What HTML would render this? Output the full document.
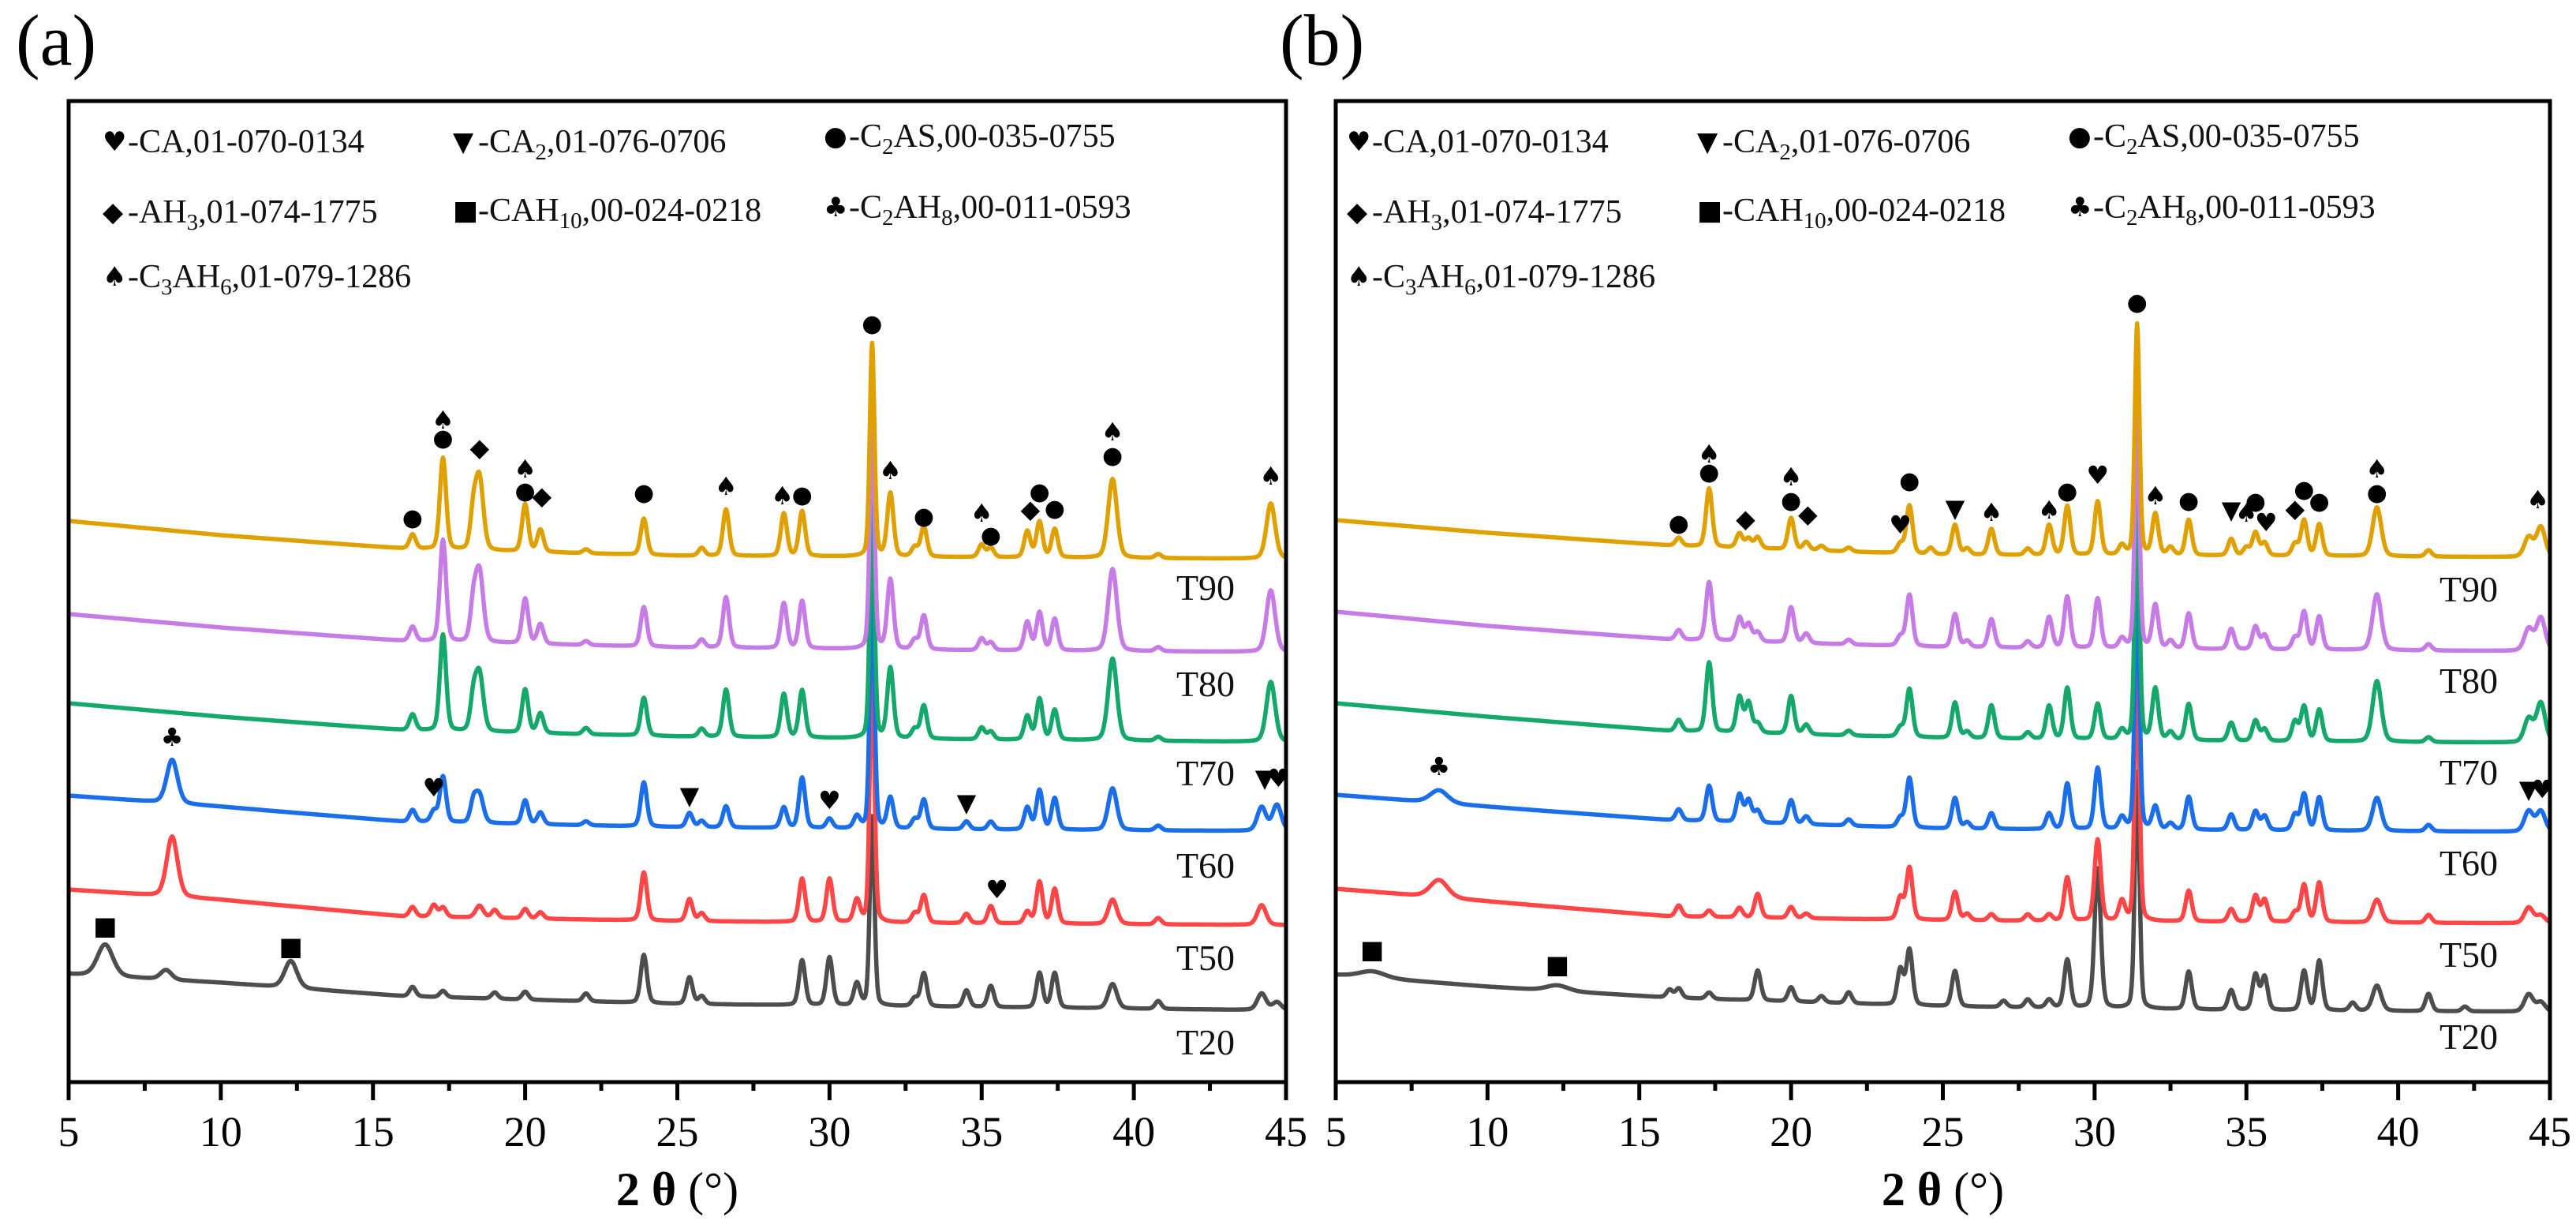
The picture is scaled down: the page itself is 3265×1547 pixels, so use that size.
<!DOCTYPE html>
<html><head><meta charset="utf-8"><style>
html,body{margin:0;padding:0;background:#fff}
svg{display:block}
.sym{font-family:"DejaVu Sans",sans-serif}
.ser{font-family:"Liberation Serif",serif}
</style></head><body>
<svg id="fig" width="3265" height="1547" viewBox="0 0 3265 1547" xmlns="http://www.w3.org/2000/svg">
<rect width="3265" height="1547" fill="#fff"/>
<g id="panelA"></g>
<g id="panelB"></g>
</svg>
<script>
// ---------- data ----------
const xTicks = [5,10,15,20,25,30,35,40,45];
const seriesNames = ["T20","T50","T60","T70","T80","T90"];
const seriesColors = ["#4d4d4d","#ff4545","#1a6eea","#14a86a","#c77be6","#e0a100"];
const bgDeg = [5,10,16,25,35,45];
// panel (a) backgrounds (intensity units)
const a_bg_T20 = [137,126,109,99,95,91];
const a_bg_T50 = [244,231,210,204,201,199];
const a_bg_T60 = [363,349,330,323,320,318];
const a_bg_T70 = [480,463,446,438,434,431];
const a_bg_T80 = [593,576,559,551,547,545];
const a_bg_T90 = [711,693,676,667,665,663];
// panel (a) peaks [2theta, height]
const a_pk_T90 = [[16.3,18],[17.3,116],[18.3,45],[18.5,90],[20.0,60],[20.5,28],[22.0,5],[23.9,46],[25.8,10],[26.6,59],[28.5,54],[29.1,57],[31.4,270],[32.0,80],[32.8,12],[33.1,38],[35.0,16],[35.3,12],[36.5,33],[36.9,45],[37.4,36],[39.3,100],[40.8,5],[44.5,70]];
const a_pk_T80 = [[16.3,18],[17.3,129],[18.3,45],[18.5,88],[20.0,57],[20.5,25],[22.0,5],[23.9,50],[25.8,10],[26.6,64],[28.5,57],[29.1,60],[31.4,300],[32.0,88],[32.8,12],[33.1,43],[35.0,15],[35.3,10],[36.5,36],[36.9,48],[37.4,40],[39.3,104],[40.8,5],[44.5,78]];
const a_pk_T70 = [[16.3,20],[17.3,122],[18.3,40],[18.5,72],[20.0,55],[20.5,25],[22.0,8],[23.9,48],[25.8,10],[26.6,60],[28.5,55],[29.1,60],[31.4,300],[32.0,89],[32.8,12],[33.1,42],[35.0,15],[35.3,10],[36.5,30],[36.9,52],[37.4,38],[39.3,104],[40.8,5],[44.5,76]];
const a_pk_T60 = [[8.4,55],[16.3,15],[17.0,14],[17.3,58],[18.3,25],[18.5,35],[20.0,30],[20.5,15],[22.0,5],[23.9,56],[25.4,18],[25.8,8],[26.6,27],[28.5,26],[29.1,64],[30.0,12],[30.9,15],[31.4,310],[32.0,39],[32.8,12],[33.1,37],[34.5,10],[35.3,10],[36.5,28],[36.9,50],[37.4,40],[39.3,53],[40.8,6],[44.2,30],[44.7,33]];
const a_pk_T50 = [[8.4,76],[16.3,12],[17.0,15],[17.3,12],[18.5,15],[19.0,10],[20.0,12],[20.5,8],[23.9,61],[25.4,28],[25.8,10],[29.1,55],[30.0,55],[30.9,28],[31.4,330],[32.8,12],[33.1,35],[34.5,12],[35.3,22],[36.5,15],[36.9,53],[37.4,44],[39.3,31],[40.8,8],[44.2,25]];
const a_pk_T20 = [[6.2,40],[8.2,12],[12.3,34],[16.3,12],[17.3,8],[19.0,8],[20.0,10],[22.0,10],[23.9,61],[25.4,34],[25.8,10],[29.1,57],[30.0,61],[30.9,28],[31.4,240],[32.8,10],[33.1,42],[34.5,21],[35.3,27],[36.9,44],[37.4,44],[39.3,31],[40.8,10],[44.2,21],[44.7,10]];
// panel (b)
const b_bg_T20 = [136,121,107,96,91,89];
const b_bg_T50 = [245,229,210,205,203,201];
const b_bg_T60 = [364,349,332,321,319,317];
const b_bg_T70 = [480,463,445,436,432,430];
const b_bg_T80 = [596,578,561,551,548,546];
const b_bg_T90 = [712,696,680,668,667,665];
const b_pk_T90 = [[16.3,10],[17.3,74],[18.3,18],[18.6,12],[18.9,14],[20.0,40],[20.5,10],[21.0,6],[21.9,5],[23.6,12],[23.9,61],[24.6,8],[25.4,38],[25.8,8],[26.6,33],[27.8,8],[28.5,38],[29.1,62],[30.1,68],[30.9,12],[31.4,293],[32.0,52],[32.5,10],[33.1,45],[34.5,21],[35.0,10],[35.3,29],[35.6,16],[36.6,15],[36.9,45],[37.4,40],[39.3,62],[41.0,8],[44.3,25],[44.7,38]];
const b_pk_T80 = [[16.3,12],[17.3,74],[18.3,30],[18.6,22],[18.9,12],[20.0,45],[20.5,12],[21.9,6],[23.6,12],[23.9,65],[25.4,42],[25.8,8],[26.6,36],[27.8,8],[28.5,39],[29.1,65],[30.1,63],[30.9,12],[31.4,300],[32.0,55],[32.5,10],[33.1,45],[34.5,26],[35.3,29],[35.6,18],[36.6,15],[36.9,48],[37.4,42],[39.3,71],[41.0,8],[44.3,28],[44.7,42]];
const b_pk_T70 = [[16.3,14],[17.3,88],[18.3,45],[18.6,38],[18.9,12],[20.0,48],[20.5,12],[21.9,6],[23.6,12],[23.9,61],[25.4,45],[25.8,8],[26.6,42],[27.8,8],[28.5,42],[29.1,65],[30.1,45],[30.9,12],[31.4,310],[32.0,65],[32.5,10],[33.1,46],[34.5,23],[35.3,26],[35.6,15],[36.6,25],[36.9,44],[37.4,40],[39.3,77],[41.0,6],[44.3,30],[44.7,50]];
const b_pk_T60 = [[8.4,16],[16.3,14],[17.3,45],[18.3,35],[18.6,28],[18.9,15],[20.0,30],[20.5,10],[21.9,8],[23.6,12],[23.9,63],[25.4,39],[25.8,8],[26.6,20],[28.5,20],[29.1,58],[30.1,78],[30.9,15],[31.4,320],[32.0,29],[32.5,8],[33.1,42],[34.5,20],[35.3,24],[35.6,18],[36.6,20],[36.9,46],[37.4,42],[39.3,42],[41.0,8],[44.3,26],[44.7,26]];
const b_pk_T50 = [[8.4,22],[16.3,14],[17.3,8],[18.3,12],[18.9,30],[20.0,14],[20.5,6],[23.6,28],[23.9,66],[25.4,36],[25.8,8],[26.6,8],[27.8,8],[28.5,8],[29.1,55],[30.1,103],[30.9,25],[31.4,330],[33.1,39],[34.5,16],[35.3,33],[35.6,28],[36.6,12],[36.9,47],[37.4,50],[39.3,29],[41.0,10],[44.3,20],[44.7,10]];
const b_pk_T20 = [[6.2,8],[12.3,7],[16.0,10],[16.3,12],[17.3,8],[18.9,38],[20.0,18],[21.0,8],[21.9,14],[23.6,45],[23.9,70],[25.4,45],[27.0,8],[27.8,10],[28.5,10],[29.1,61],[30.1,177],[31.4,300],[33.1,48],[34.5,25],[35.3,45],[35.6,42],[36.9,50],[37.4,63],[38.5,10],[39.3,32],[41.0,22],[42.2,6],[44.3,22],[44.7,12]];
// markers [2theta, intensity, glyph]
const a_marks = [[16.3,716,"●"],[17.3,839,"♠"],[17.3,817,"●"],[18.5,804,"◆"],[20.0,777,"♠"],[20.0,750,"●"],[20.55,743,"◆"],[23.9,748,"●"],[26.6,755,"♠"],[28.45,743,"♠"],[29.1,745,"●"],[31.4,962,"●"],[32.0,775,"♠"],[33.1,718,"●"],[35.0,721,"♠"],[35.3,694,"●"],[36.6,726,"◆"],[36.9,749,"●"],[37.4,728,"●"],[39.3,824,"♠"],[39.3,795,"●"],[44.5,768,"♠"],
 [8.4,437,"♣"],[17.0,373,"♥"],[6.2,198,"■"],[12.3,172,"■"],[25.4,363,"▼"],[30.0,357,"♥"],[34.5,354,"▼"],[35.5,244,"♥"],[44.3,385,"▼"],[44.75,385,"♥"]];
const b_marks = [[16.3,709,"●"],[17.3,796,"♠"],[17.3,774,"●"],[18.5,714,"◆"],[20.0,767,"♠"],[20.0,738,"●"],[20.55,720,"◆"],[23.6,706,"♥"],[23.9,763,"●"],[25.4,727,"▼"],[26.6,722,"♠"],[28.5,725,"♠"],[29.1,750,"●"],[30.1,769,"♥"],[31.4,989,"●"],[32.0,743,"♠"],[33.1,738,"●"],[34.5,725,"▼"],[35.0,721,"♠"],[35.3,737,"●"],[35.65,709,"♥"],[36.6,727,"◆"],[36.9,752,"●"],[37.4,737,"●"],[39.3,777,"♠"],[39.3,748,"●"],[44.6,738,"♠"],
 [8.4,400,"♣"],[6.2,168,"■"],[12.3,149,"■"],[44.3,371,"▼"],[44.75,371,"♥"]];
const a_labelY = [1320,1213,1096,979,866,744];
const b_labelY = [1313,1209,1093,978,862,746];

// ---------- helpers ----------
const NS = "http://www.w3.org/2000/svg";
const yS = v => 1371 - v;
function mk(tag, attrs, parent){ const e=document.createElementNS(NS,tag); for(const k in attrs) e.setAttribute(k,attrs[k]); parent.appendChild(e); return e; }
function bgAt(vals, d){ for(let i=0;i<bgDeg.length-1;i++){ if(d<=bgDeg[i+1]){ const t=(d-bgDeg[i])/(bgDeg[i+1]-bgDeg[i]); return vals[i]+t*(vals[i+1]-vals[i]); } } return vals[vals.length-1]; }
function widthOf(p, panel){ if(p<7) return panel==="b"?0.5:0.3; if(p<9) return panel==="b"?0.34:0.21; if(p<13) return panel==="b"?0.42:0.24; if(Math.abs(p-31.4)<0.05) return 0.09; if(Math.abs(p-39.3)<0.05||p>44) return 0.17; if(Math.abs(p-18.5)<0.05) return 0.15; return 0.12; }
function prof(dx,w){ const g=Math.exp(-Math.LN2*(dx/w)*(dx/w)); const l=1/(1+(dx/w)*(dx/w)); return 0.75*g+0.25*l; }

function buildPanel(g, panel, x0, x1, bgs, pks, marks, labelY, labelX, legendX, tag){
  const xS = d => x0 + (d-5)*(x1-x0)/40;
  for(let s=0;s<6;s++){
    let dstr="";
    for(let d=5; d<=45.0001; d+=0.02){
      let v=bgAt(bgs[s],d);
      for(const pk of pks[s]){ const dx=d-pk[0]; if(Math.abs(dx)<3) v+=pk[1]*prof(dx,widthOf(pk[0],panel)); }
      dstr += (dstr?"L":"M")+xS(d).toFixed(1)+","+yS(v).toFixed(1);
    }
    const p = mk("path",{d:dstr,fill:"none",stroke:seriesColors[s],"stroke-width":5.5,"stroke-linejoin":"round"},g);
    
    
    const t = mk("text",{x:labelX,y:labelY[s]+16,"text-anchor":"middle","font-size":46,class:"ser",fill:"#111"},g);
    t.textContent=seriesNames[s];
    
    
  }
  for(const m of marks){
    const t = mk("text",{x:xS(m[0]),y:yS(m[1])+11,"text-anchor":"middle","font-size":m[2]==="●"?30:32,class:"sym",fill:"#000"},g);
    t.textContent=m[2];
    
    
  }
  const fr = mk("rect",{x:x0,y:128,width:x1-x0,height:1371-128,fill:"none",stroke:"#000","stroke-width":5},g);
  
  
  for(let d=5; d<=45; d+=2.5){
    const major = Math.abs(d%5)<1e-6;
    const tk = mk("line",{x1:xS(d),x2:xS(d),y1:1371,y2:1371+(major?23:11),stroke:"#000","stroke-width":5},g);
    
    
  }
  for(const v of xTicks){
    const t = mk("text",{x:xS(v),y:1452,"text-anchor":"middle","font-size":54,class:"ser",fill:"#000"},g);
    t.textContent=String(v);
    
    
  }
  const title = mk("text",{x:(x0+x1)/2,y:1527,"text-anchor":"middle","font-size":60,class:"ser",fill:"#000"},g);
  title.innerHTML='<tspan font-weight="bold">2 θ</tspan> (°)';
  
  
  const pl = mk("text",{x:tag==="(a)"?20:1622,y:82,"font-size":92,class:"ser",fill:"#000"},g);
  pl.textContent=tag;
  
  
  const leg = [
    [0,193,"♥","-CA,01-070-0134"],
    [444,193,"▼",'-CA<tspan dy="9" font-size="29">2</tspan><tspan dy="-9">,01-076-0706</tspan>'],
    [914,186,"●",'-C<tspan dy="9" font-size="29">2</tspan><tspan dy="-9">AS,00-035-0755</tspan>'],
    [0,282,"◆",'-AH<tspan dy="9" font-size="29">3</tspan><tspan dy="-9">,01-074-1775</tspan>'],
    [444,280,"■",'-CAH<tspan dy="9" font-size="29">10</tspan><tspan dy="-9">,00-024-0218</tspan>'],
    [914,276,"♣",'-C<tspan dy="9" font-size="29">2</tspan><tspan dy="-9">AH</tspan><tspan dy="9" font-size="29">8</tspan><tspan dy="-9">,00-011-0593</tspan>'],
    [0,364,"♠",'-C<tspan dy="9" font-size="29">3</tspan><tspan dy="-9">AH</tspan><tspan dy="9" font-size="29">6</tspan><tspan dy="-9">,01-079-1286</tspan>']
  ];
  for(const L of leg){
    const s = mk("text",{x:legendX+L[0],y:L[1]-2,"font-size":34,class:"sym",fill:"#000"},g);
    s.textContent=L[2];
    
    
    const t = mk("text",{x:legendX+L[0]+32,y:L[1],"font-size":42,class:"ser",fill:"#111"},g);
    t.innerHTML=L[3];
    
    
  }
}
buildPanel(document.getElementById("panelA"),"a",87,1630,
  [a_bg_T20,a_bg_T50,a_bg_T60,a_bg_T70,a_bg_T80,a_bg_T90],
  [a_pk_T20,a_pk_T50,a_pk_T60,a_pk_T70,a_pk_T80,a_pk_T90],
  a_marks,a_labelY,1528,130,"(a)");
buildPanel(document.getElementById("panelB"),"b",1693,3232,
  [b_bg_T20,b_bg_T50,b_bg_T60,b_bg_T70,b_bg_T80,b_bg_T90],
  [b_pk_T20,b_pk_T50,b_pk_T60,b_pk_T70,b_pk_T80,b_pk_T90],
  b_marks,b_labelY,3129,1707,"(b)");
</script>
</body></html>
